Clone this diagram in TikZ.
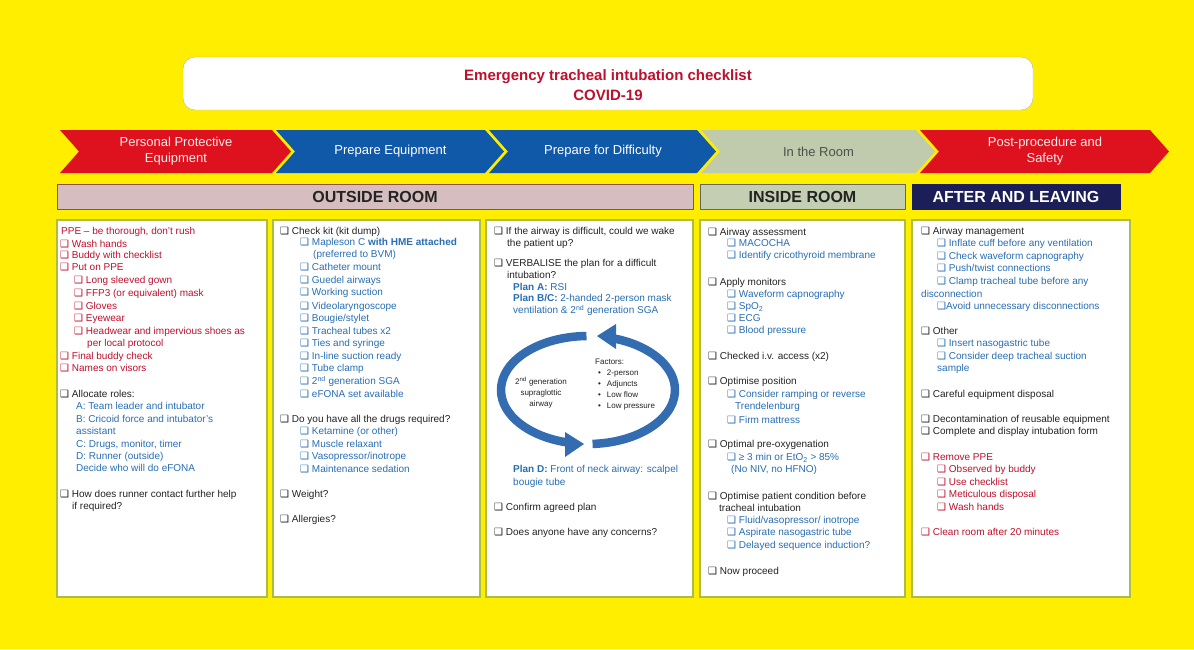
\documentclass[tikz,border=0pt]{standalone}
\usepackage{fontspec}
\setmainfont{Liberation Sans}
\newfontfamily\symfont{DejaVu Sans}

\definecolor{bgyellow}{RGB}{255,238,0}
\definecolor{chred}{RGB}{222,18,30}
\definecolor{chblue}{RGB}{16,88,168}
\definecolor{chgray}{RGB}{192,202,172}
\definecolor{outfill}{RGB}{214,190,192}
\definecolor{infill}{RGB}{196,206,178}
\definecolor{navy}{RGB}{28,30,88}
\definecolor{txtred}{RGB}{190,16,44}
\definecolor{txtblue}{RGB}{40,110,180}
\definecolor{txtdark}{RGB}{35,35,35}
\definecolor{boxline}{RGB}{170,190,70}
\definecolor{cycblue}{RGB}{52,108,178}

\newcommand{\cb}{{\symfont\fontsize{10}{10}\selectfont ❑}}

\tikzset{
  line/.style={anchor=mid west, inner sep=0pt, font=\fontsize{10}{12}\selectfont},
  rd/.style={line, text=txtred},
  bl/.style={line, text=txtblue},
  bk/.style={line, text=txtdark},
  colbox/.style={draw=boxline, line width=1.5pt, fill=white},
  chevtext/.style={align=center, inner sep=0pt, font=\fontsize{13}{16}\selectfont},
  roombar/.style={line width=1pt, minimum height=25pt, inner sep=0pt, font=\fontsize{16}{16}\selectfont\bfseries},
  cyctext/.style={inner sep=0pt, text=txtdark, font=\fontsize{8}{11}\selectfont},
  cycarc/.style={draw=cycblue, line width=8.5pt}
}

\begin{document}
\begin{tikzpicture}[x=1pt,y=-1pt]
\useasboundingbox (0,0) rectangle (1194,649);
\fill[bgyellow] (0,0) rectangle (1194,649);

% Title
\draw[fill=white, draw=gray!60, rounded corners=12pt] (183,57) rectangle (1033,110);
\node[align=center, text=txtred, font=\fontsize{15}{20}\selectfont\bfseries] (title) at (608,85)
    {Emergency tracheal intubation checklist\\COVID-19};

% Chevrons
\foreach \xl/\xr/\col/\tc/\t [count=\i] in {
    60/272/chred/red!8/{Personal Protective\\Equipment},
    276/485/chblue/white/{Prepare Equipment},
    489/697/chblue/white/{Prepare for Difficulty},
    701/916/chgray/txtdark!80/{In the Room},
    920/1150/chred/red!8/{Post-procedure and\\Safety}}
{
    \fill[\col] (\xl,130) -- (\xr,130) -- (\xr+19,151.5) -- (\xr,173) -- (\xl,173) -- (\xl+19,151.5) -- cycle;
    \node[chevtext, text=\tc] (chev\i) at ({(\xl+\xr)/2+10},151.5) {\t};
}

% Room bars
\node[roombar, draw=red!40!black!70, fill=outfill, minimum width=636pt, text=txtdark] (outside) at (375,197) {OUTSIDE ROOM};
\node[roombar, draw=black!60, fill=infill, minimum width=205pt, text=txtdark] (inside) at (802.5,197) {INSIDE ROOM};
\node[roombar, draw=navy, fill=navy, minimum width=208pt, text=white] (after) at (1016,197) {AFTER AND LEAVING};

% Column boxes
\foreach \xl/\xr in {57/267, 273/480, 486/693, 700/905, 912/1130}
    \draw[colbox] (\xl,220) rectangle (\xr,597);

% Column 1: personal protective equipment
\foreach \y/\x/\s/\t [count=\i] in {
    232/61/rd/{PPE -- be thorough, don't rush},
    245/60/rd/{\cb\ Wash hands},
    256/60/rd/{\cb\ Buddy with checklist},
    268/60/rd/{\cb\ Put on PPE},
    281/74/rd/{\cb\ Long sleeved gown},
    294/74/rd/{\cb\ FFP3 (or equivalent) mask},
    307/74/rd/{\cb\ Gloves},
    319/74/rd/{\cb\ Eyewear},
    332/74/rd/{\cb\ Headwear and impervious shoes as},
    344/87/rd/{per local protocol},
    357/60/rd/{\cb\ Final buddy check},
    369/60/rd/{\cb\ Names on visors},
    395/60/bk/{\cb\ Allocate roles:},
    407/76/bl/{A: Team leader and intubator},
    420/76/bl/{B: Cricoid force and intubator's},
    432/76/bl/{assistant},
    445/76/bl/{C: Drugs, monitor, timer},
    457/76/bl/{D: Runner (outside)},
    469/76/bl/{Decide who will do eFONA},
    495/60/bk/{\cb\ How does runner contact further help},
    507/72/bk/{if required?}}
    \node[\s] (c1-\i) at (\x,\y) {\t};

% Column 2: prepare equipment
\foreach \y/\x/\s/\t [count=\i] in {
    232/280/bk/{\cb\ Check kit (kit dump)},
    243/300/bl/{\cb\ Mapleson C \textbf{with HME attached}},
    255/313/bl/{(preferred to BVM)},
    268/300/bl/{\cb\ Catheter mount},
    281/300/bl/{\cb\ Guedel airways},
    293/300/bl/{\cb\ Working suction},
    307/300/bl/{\cb\ Videolaryngoscope},
    319/300/bl/{\cb\ Bougie/stylet},
    332/300/bl/{\cb\ Tracheal tubes x2},
    344/300/bl/{\cb\ Ties and syringe},
    357/300/bl/{\cb\ In-line suction ready},
    369/300/bl/{\cb\ Tube clamp},
    382/300/bl/{\cb\ 2\textsuperscript{nd} generation SGA},
    395/300/bl/{\cb\ eFONA set available},
    420/280/bk/{\cb\ Do you have all the drugs required?},
    432/300/bl/{\cb\ Ketamine (or other)},
    445/300/bl/{\cb\ Muscle relaxant},
    457/300/bl/{\cb\ Vasopressor/inotrope},
    470/300/bl/{\cb\ Maintenance sedation},
    495/280/bk/{\cb\ Weight?},
    520/280/bk/{\cb\ Allergies?}}
    \node[\s] (c2-\i) at (\x,\y) {\t};

% Column 3: prepare for difficulty
\foreach \y/\x/\s/\t [count=\i] in {
    232/494/bk/{\cb\ If the airway is difficult, could we wake},
    244/507/bk/{the patient up?},
    264/494/bk/{\cb\ VERBALISE the plan for a difficult},
    276/507/bk/{intubation?},
    288/513/bl/{\textbf{Plan A:} RSI},
    299/513/bl/{\textbf{Plan B/C:} 2-handed 2-person mask},
    311/513/bl/{ventilation \& 2\textsuperscript{nd} generation SGA},
    470/513/bl/{\textbf{Plan D:} Front of neck airway: scalpel},
    483/513/bl/{bougie tube},
    508/494/bk/{\cb\ Confirm agreed plan},
    533/494/bk/{\cb\ Does anyone have any concerns?}}
    \node[\s] (c3-\i) at (\x,\y) {\t};

% Cycle
\begin{scope}[shift={(588,390)}, y=1pt]
    \draw[cycarc] (-87:87 and 54) arc[start angle=-87, end angle=72, x radius=87, y radius=54];
    \draw[cycarc] (91:87 and 54) arc[start angle=91, end angle=255, x radius=87, y radius=54];
\end{scope}
\fill[cycblue] (597,336) -- (616,324) -- (616,349) -- cycle;
\fill[cycblue] (584,444) -- (565,432) -- (565,457) -- cycle;
\node[cyctext, align=center] (sga) at (541,393) {2\textsuperscript{nd} generation\\supraglottic\\airway};
\node[cyctext, align=left, anchor=north west] (factors) at (595,359)
    {Factors:\\\hspace{3pt}\textbullet\hspace{6pt}2-person\\\hspace{3pt}\textbullet\hspace{6pt}Adjuncts\\\hspace{3pt}\textbullet\hspace{6pt}Low flow\\\hspace{3pt}\textbullet\hspace{6pt}Low pressure};

% Column 4: in the room
\foreach \y/\x/\s/\t [count=\i] in {
    233/708/bk/{\cb\ Airway assessment},
    244/727/bl/{\cb\ MACOCHA},
    256/727/bl/{\cb\ Identify cricothyroid membrane},
    283/708/bk/{\cb\ Apply monitors},
    295/727/bl/{\cb\ Waveform capnography},
    307/727/bl/{\cb\ SpO\textsubscript{2}},
    319/727/bl/{\cb\ ECG},
    331/727/bl/{\cb\ Blood pressure},
    357/708/bk/{\cb\ Checked i.v. access (x2)},
    382/708/bk/{\cb\ Optimise position},
    395/727/bl/{\cb\ Consider ramping or reverse},
    407/735/bl/{Trendelenburg},
    421/727/bl/{\cb\ Firm mattress},
    445/708/bk/{\cb\ Optimal pre-oxygenation},
    458/727/bl/{\cb\ ≥ 3 min or EtO\textsubscript{2} > 85\%},
    470/731/bl/{(No NIV, no HFNO)},
    497/708/bk/{\cb\ Optimise patient condition before},
    509/719/bk/{tracheal intubation},
    521/727/bl/{\cb\ Fluid/vasopressor/ inotrope},
    533/727/bl/{\cb\ Aspirate nasogastric tube},
    546/727/bl/{\cb\ Delayed sequence induction?},
    572/708/bk/{\cb\ Now proceed}}
    \node[\s] (c4-\i) at (\x,\y) {\t};

% Column 5: post-procedure
\foreach \y/\x/\s/\t [count=\i] in {
    232/921/bk/{\cb\ Airway management},
    244/937/bl/{\cb\ Inflate cuff before any ventilation},
    257/937/bl/{\cb\ Check waveform capnography},
    269/937/bl/{\cb\ Push/twist connections},
    282/937/bl/{\cb\ Clamp tracheal tube before any},
    295/921/bl/{disconnection},
    307/937/bl/{\cb{}Avoid unnecessary disconnections},
    332/921/bk/{\cb\ Other},
    344/937/bl/{\cb\ Insert nasogastric tube},
    357/937/bl/{\cb\ Consider deep tracheal suction},
    369/937/bl/{sample},
    395/921/bk/{\cb\ Careful equipment disposal},
    420/921/bk/{\cb\ Decontamination of reusable equipment},
    432/921/bk/{\cb\ Complete and display intubation form},
    458/921/rd/{\cb\ Remove PPE},
    470/937/rd/{\cb\ Observed by buddy},
    483/937/rd/{\cb\ Use checklist},
    495/937/rd/{\cb\ Meticulous disposal},
    508/937/rd/{\cb\ Wash hands},
    533/921/rd/{\cb\ Clean room after 20 minutes}}
    \node[\s] (c5-\i) at (\x,\y) {\t};

\end{tikzpicture}
\end{document}
